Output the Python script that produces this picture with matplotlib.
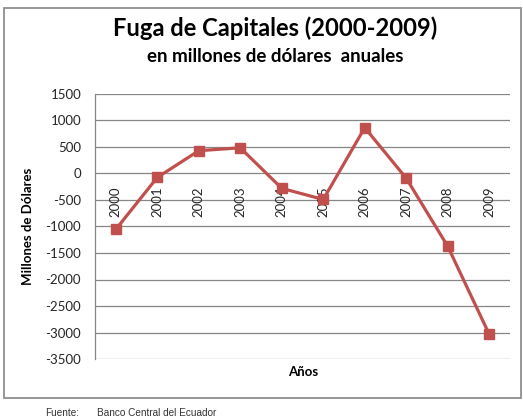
import matplotlib
matplotlib.use("Agg")
import matplotlib.pyplot as plt
from matplotlib.patches import Rectangle

years = ['2000', '2001', '2002', '2003', '2004', '2005', '2006', '2007', '2008', '2009']
fuga = [-1055, -75, 430, 485, -280, -490, 865, -90, -1375, -3035]
yticks = [1500, 1000, 500, 0, -500, -1000, -1500, -2000, -2500, -3000, -3500]

red = '#C0504D'
grid = '#868686'
font = 'Lato'

W, H = 523, 418
fig = plt.figure(figsize=(W / 100, H / 100), dpi=100)
ax = fig.add_axes([95 / W, 1 - 359 / H, (510 - 95) / W, (359 - 94) / H])

x = list(range(len(years)))
ax.plot(x, fuga, color=red, lw=2.3, marker='s', ms=7.5, mfc=red, mec=red, zorder=3)

ax.set_xlim(-0.5, len(years) - 0.5)
ax.set_ylim(-3500, 1500)
ax.set_yticks(yticks)
ax.set_yticklabels([str(v) for v in yticks], fontfamily=font, fontsize=9.5, color='#262626')
ax.set_xticks([])
ax.tick_params(axis='y', length=0, pad=10)
ax.grid(axis='y', color=grid, lw=0.9)
ax.set_axisbelow(True)
for s in ['top', 'right', 'bottom']:
    ax.spines[s].set_visible(False)
ax.spines['left'].set_color(grid)
ax.spines['left'].set_linewidth(0.9)

# year labels hang below the zero line
for i, yr in enumerate(years):
    ax.annotate(yr, (i, 0), xytext=(0, -9.5), textcoords='offset points',
                rotation=90, ha='center', va='top', fontfamily=font,
                fontsize=9.5, color='#262626', zorder=2)

ax.set_ylabel('Millones de Dólares', fontfamily=font, fontweight='bold', fontsize=9.5, labelpad=8)
fig.text(303 / W, 1 - 372 / H, 'Años', ha='center', va='center',
         fontfamily=font, fontweight='bold', fontsize=9.5)

fig.text(275 / W, 1 - 28 / H, 'Fuga de Capitales (2000-2009)', ha='center', va='center',
         fontfamily=font, fontweight='bold', fontsize=17.1)
fig.text(275 / W, 1 - 57 / H, 'en millones de dólares  anuales', ha='center', va='center',
         fontfamily=font, fontweight='bold', fontsize=13.5)

fig.patches.append(Rectangle((4 / W, 1 - 398 / H), (521 - 4) / W, (398 - 8) / H,
                             transform=fig.transFigure, fill=False, ec='#8f8f8f', lw=1.3))

fig.text(45 / W, 1 - 413 / H, 'Fuente:', fontfamily='Liberation Sans', fontsize=7.2,
         color='#333333', va='center')
fig.text(97 / W, 1 - 413 / H, 'Banco Central del Ecuador', fontfamily='Liberation Sans',
         fontsize=7.2, color='#333333', va='center')

fig.savefig('out.png', dpi=100)
